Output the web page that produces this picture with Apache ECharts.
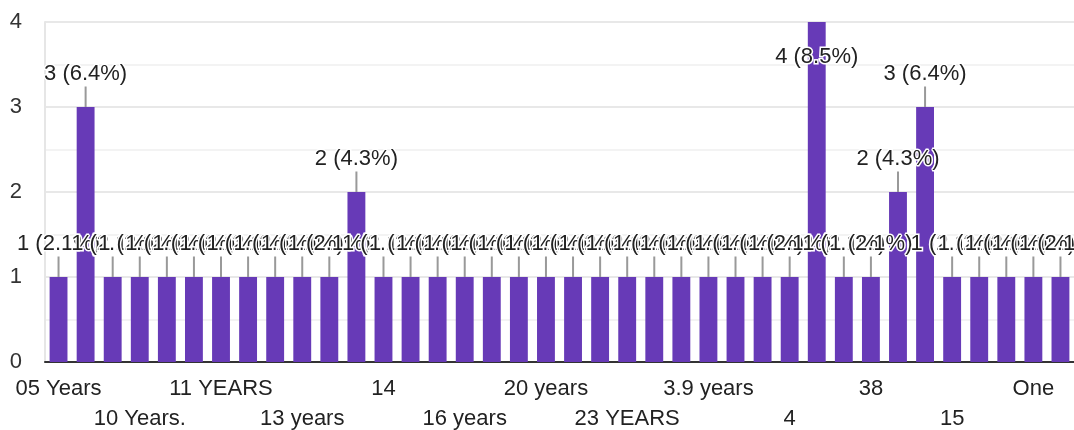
<!DOCTYPE html>
<html>
<head>
<meta charset="utf-8">
<script src="https://cdn.jsdelivr.net/npm/echarts@6/dist/echarts.min.js"></script>
<style>
  html, body { margin: 0; padding: 0; background: #fff; }
  #chart { width: 1074px; height: 430px; }
</style>
</head>
<body>
<div id="chart"></div>
<script>
// answers (x axis), only every third one is printed on the axis
const categories = [
  "05 Years", "1 year", "10", "10 Years.", "10 years", "11",
  "11 YEARS", "11 years", "12", "13 years", "13", "14 years",
  "14", "15 years", "16", "16 years", "17", "18 years",
  "20 years", "21", "22 years", "23 YEARS", "25", "3",
  "3.9 years", "30", "35 years", "4", "5 years", "6",
  "38", "7 years", "8 years", "15", "9", "9 years",
  "One", "Two"
];
const counts = [
  1, 3, 1, 1, 1, 1,
  1, 1, 1, 1, 1, 2,
  1, 1, 1, 1, 1, 1,
  1, 1, 1, 1, 1, 1,
  1, 1, 1, 1, 4, 1,
  1, 2, 3, 1, 1, 1,
  1, 1
];
const yTicks = [0, 1, 2, 3, 4];

const total = counts.reduce((a, b) => a + b, 0);
const chart = echarts.init(document.getElementById("chart"));

// labels alternate between two rows, one axis per row
function labelRow(offset, margin, showLine) {
  return {
    type: "category",
    data: categories,
    position: "bottom",
    axisTick: { show: false },
    axisLine: { show: showLine, lineStyle: { color: "#333", width: 2 } },
    axisLabel: {
      interval: function (i) { return i % 6 === offset; },
      showMinLabel: true,
      showMaxLabel: true,
      hideOverlap: false,
      margin: margin,
      fontSize: 22,
      color: "#222"
    }
  };
}

const option = {
  animation: false,
  textStyle: { fontFamily: "Liberation Sans, Arial, sans-serif" },
  grid: { left: 45, right: 0, top: 22, bottom: 68, outerBoundsMode: "none" },
  xAxis: [labelRow(0, 16, true), labelRow(3, 46, false)],
  yAxis: {
    type: "value",
    min: yTicks[0],
    max: yTicks[yTicks.length - 1],
    interval: 1,
    axisLine: { show: true, lineStyle: { color: "#e6e6e6", width: 2 } },
    axisTick: { show: false },
    axisLabel: { fontSize: 22, color: "#333", margin: 23 },
    splitLine: { lineStyle: { color: "#e8e8e8", width: 2 } },
    minorTick: { show: false, splitNumber: 2 },
    minorSplitLine: { show: true, lineStyle: { color: "#f3f3f3", width: 2 } }
  },
  series: [
    {
      type: "bar",
      xAxisIndex: 0,
      data: counts,
      barWidth: "66%",
      itemStyle: { color: "#673ab7" },
      label: {
        show: true,
        position: "top",
        fontSize: 22,
        color: "#222",
        textBorderColor: "#fff",
        textBorderWidth: 3,
        formatter: function (p) {
          return p.value + " (" + (p.value / total * 100).toFixed(1) + "%)";
        }
      },
      labelLine: { show: true, lineStyle: { color: "#999", width: 2 } },
      labelLayout: function (p) {
        return { dy: p.dataIndex === 28 ? 51 : -17 };
      }
    }
  ]
};

chart.setOption(option);
</script>
</body>
</html>
